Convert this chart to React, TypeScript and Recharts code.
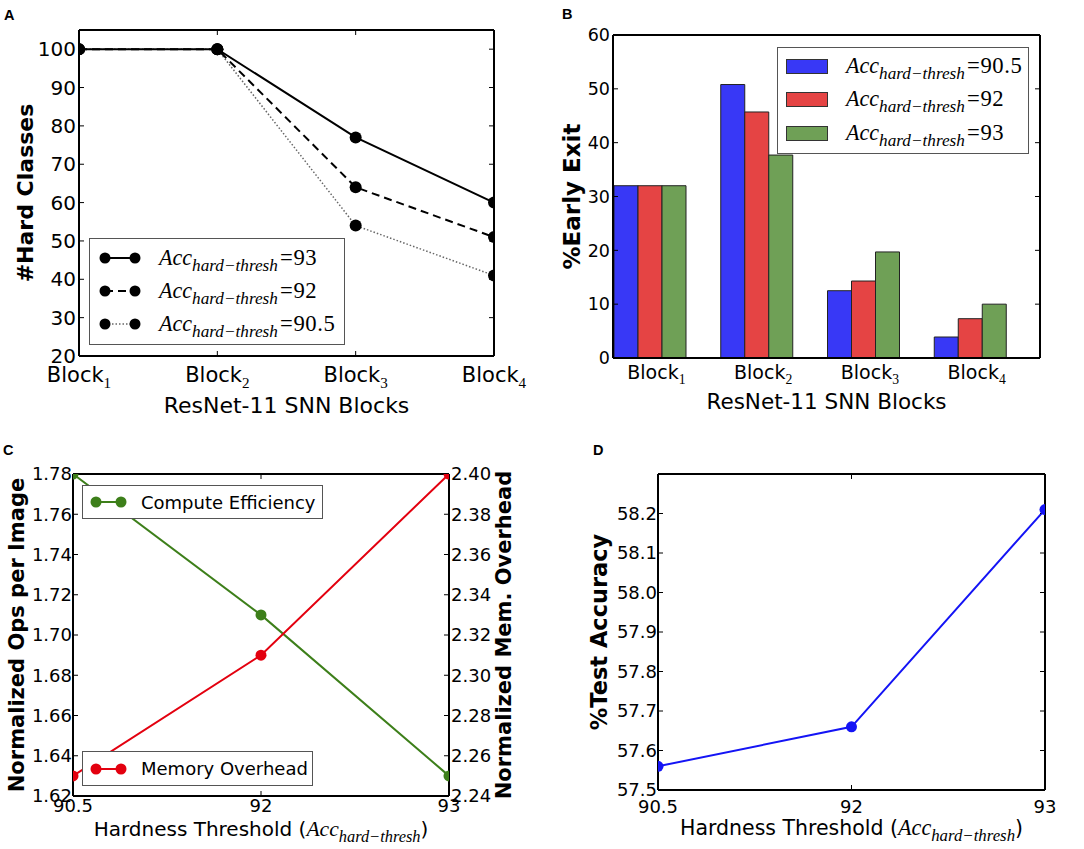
import React from 'react';
import { LineChart, Line, BarChart, Bar, XAxis, YAxis, Legend } from 'recharts';

const SANS = '"DejaVu Sans", "Bitstream Vera Sans", sans-serif';
const SERIF = '"Liberation Serif", "Times New Roman", serif';
const PANEL_FONT = '"Liberation Sans", Arial, sans-serif';

// ---------- Panel A data ----------
const blocks = ['Block1', 'Block2', 'Block3', 'Block4'];
const hardClasses93 = [100, 100, 77, 60];
const hardClasses92 = [100, 100, 64, 51];
const hardClasses905 = [100, 100, 54, 41];
const hardTicks = [20, 30, 40, 50, 60, 70, 80, 90, 100];

// ---------- Panel B data ----------
const earlyExit905 = [32.0, 50.8, 12.5, 3.9];
const earlyExit92 = [32.0, 45.7, 14.3, 7.3];
const earlyExit93 = [32.0, 37.7, 19.7, 10.0];
const exitTicks = [0, 10, 20, 30, 40, 50, 60];

// ---------- Panel C data ----------
const thresholds = ['90.5', '92', '93'];
const computeEfficiency = [1.78, 1.71, 1.63];
const memoryOverhead = [2.25, 2.31, 2.4];
const opsTicks = [1.62, 1.64, 1.66, 1.68, 1.7, 1.72, 1.74, 1.76, 1.78];
const memTicks = [2.24, 2.26, 2.28, 2.3, 2.32, 2.34, 2.36, 2.38, 2.4];

// ---------- Panel D data ----------
const testAccuracy = [57.56, 57.66, 58.21];
const accTicks = [57.5, 57.6, 57.7, 57.8, 57.9, 58.0, 58.1, 58.2];

const dataA = blocks.map((b, i) => ({ block: b, t93: hardClasses93[i], t92: hardClasses92[i], t905: hardClasses905[i] }));
const dataB = blocks.map((b, i) => ({ block: b, e905: earlyExit905[i], e92: earlyExit92[i], e93: earlyExit93[i] }));
const dataC = thresholds.map((t, i) => ({ th: t, ce: computeEfficiency[i], mo: memoryOverhead[i] }));
const dataD = thresholds.map((t, i) => ({ th: t, acc: testAccuracy[i] }));

const BLUE = '#3838f6';
const RED = '#e54444';
const GREEN = '#6fa056';
const LINE_GREEN = '#3d7f1a';
const LINE_RED = '#e3000f';
const LINE_BLUE = '#1414f5';

const AX = { stroke: '#000', strokeWidth: 2 };
const TL = { stroke: '#000', strokeWidth: 1 };

// layout (plot-area geometry for each panel)
const A = { w: 540, h: 420, left: 79, top: 30, right: 494, bottom: 356 };
const Bp = { w: 544, h: 420, left: 73, top: 35, right: 500, bottom: 358 };
const C = { w: 540, h: 429, left: 73, top: 54, right: 449, bottom: 376 };
const D = { w: 544, h: 429, left: 118, top: 54, right: 505, bottom: 370 };

const NoTick = () => <g />;

const clippedDot = (id: string, color: string, r: number, box: { left: number; top: number; right: number; bottom: number }) =>
  (props: any) => {
    const { cx, cy, index } = props;
    const cid = `${id}-${index}`;
    if (cx == null || cy == null) return <g key={cid} />;
    return (
      <g key={cid}>
        <clipPath id={cid}>
          <rect x={box.left} y={box.top} width={box.right - box.left} height={box.bottom - box.top} />
        </clipPath>
        <circle cx={cx} cy={cy} r={r} fill={color} clipPath={`url(#${cid})`} />
      </g>
    );
  };

const BlockTick = (props: any) => {
  const { x, y, payload, fs = 21, dx = 0 } = props;
  const digit = String(payload.value).replace('Block', '');
  return (
    <text x={x + dx} y={y} dy={fs * 0.72} textAnchor="middle" fontFamily={SANS} fontSize={fs} fill="#000">
      Block<tspan fontFamily={SERIF} fontSize={fs * 0.72} dy={fs * 0.3}>{digit}</tspan>
    </text>
  );
};

const xTitle = (text: string, baseline: number, fs: number) => (props: any) => {
  const vb = props.viewBox || { x: 0, y: 0, width: 0, height: 0 };
  return (
    <text x={vb.x + vb.width / 2} y={vb.y + baseline} textAnchor="middle" fontFamily={SANS} fontSize={fs} fill="#000">
      {text}
    </text>
  );
};

const thresholdTitle = (baseline: number, fs: number) => (props: any) => {
  const vb = props.viewBox || { x: 0, y: 0, width: 0, height: 0 };
  return (
    <text x={vb.x + vb.width / 2} y={vb.y + baseline} textAnchor="middle" fontFamily={SANS} fontSize={fs} fill="#000">
      Hardness Threshold (<tspan fontFamily={SERIF} fontStyle="italic" fontSize={fs * 1.08}>Acc</tspan><tspan fontFamily={SERIF} fontStyle="italic" fontSize={fs * 0.82} dy={fs * 0.3}>hard−thresh</tspan><tspan dy={-fs * 0.3}>)</tspan>
    </text>
  );
};

const yTitle = (text: string, cxOffset: number, fs: number) => (props: any) => {
  const vb = props.viewBox || { x: 0, y: 0, width: 0, height: 0 };
  const cx = vb.x + cxOffset;
  const cy = vb.y + vb.height / 2;
  return (
    <text
      transform={`translate(${cx},${cy}) rotate(-90)`}
      textAnchor="middle"
      dominantBaseline="central"
      fontFamily={SANS}
      fontWeight="bold"
      fontSize={fs}
      fill="#000"
    >
      {text}
    </text>
  );
};

const AccText = ({ value, fs }: { value: string; fs: number }) => (
  <span style={{ fontFamily: SERIF, fontSize: fs, lineHeight: 1, whiteSpace: 'nowrap', color: '#000' }}>
    <span style={{ fontStyle: 'italic', fontSize: fs * 1.05 }}>Acc</span>
    <span style={{ fontStyle: 'italic', fontSize: fs * 0.82, position: 'relative', top: fs * 0.3 }}>hard−thresh</span>
    <span style={{ marginLeft: fs * 0.1, fontSize: fs * 1.08, letterSpacing: 0.6 }}>={value}</span>
  </span>
);

const legendBox: React.CSSProperties = {
  position: 'absolute',
  background: '#fff',
  border: '1.5px solid #555',
  boxSizing: 'border-box',
};

const seriesA = [
  { label: '93', dash: undefined as string | undefined, color: '#000', w: 2 },
  { label: '92', dash: '8 5', color: '#000', w: 2 },
  { label: '90.5', dash: '1.5 2', color: '#666', w: 1.5 },
];

const LegendA = () => (
  <div style={{ position: 'relative', width: A.w, height: A.h, pointerEvents: 'none' }}>
    <div style={{ ...legendBox, left: 89, top: 238, width: 256, height: 107 }}>
      {seriesA.map((s, i) => (
        <div key={i} style={{ position: 'absolute', left: 0, top: 19 + i * 33 - 15, height: 30, display: 'flex', alignItems: 'center' }}>
          <svg width={69} height={30} style={{ display: 'block' }}>
            <line x1={15} y1={15} x2={45} y2={15} stroke={s.color} strokeWidth={s.w} strokeDasharray={s.dash} />
            <circle cx={15} cy={15} r={5.5} fill="#000" />
            <circle cx={45} cy={15} r={5.5} fill="#000" />
          </svg>
          <AccText value={s.label} fs={21} />
        </div>
      ))}
    </div>
  </div>
);

const seriesB = [
  { label: '90.5', color: BLUE },
  { label: '92', color: RED },
  { label: '93', color: GREEN },
];

const LegendB = () => (
  <div style={{ position: 'relative', width: Bp.w, height: Bp.h, pointerEvents: 'none' }}>
    <div style={{ ...legendBox, left: 237, top: 47, width: 252, height: 107 }}>
      {seriesB.map((s, i) => (
        <div key={i} style={{ position: 'absolute', left: 0, top: 18 + i * 33.5 - 15, height: 30, display: 'flex', alignItems: 'center' }}>
          <div style={{ marginLeft: 8, width: 42, height: 15, background: s.color, border: '1px solid #333', boxSizing: 'border-box' }} />
          <div style={{ width: 18 }} />
          <AccText value={s.label} fs={21} />
        </div>
      ))}
    </div>
  </div>
);

const DotSample = ({ color }: { color: string }) => (
  <svg width={58} height={30} style={{ display: 'block' }}>
    <line x1={13} y1={15} x2={38} y2={15} stroke={color} strokeWidth={2} />
    <circle cx={13} cy={15} r={5.5} fill={color} />
    <circle cx={38} cy={15} r={5.5} fill={color} />
  </svg>
);

const LegendC = () => (
  <div style={{ position: 'relative', width: C.w, height: C.h, pointerEvents: 'none' }}>
    <div style={{ ...legendBox, left: 82, top: 65, width: 241, height: 34, display: 'flex', alignItems: 'center' }}>
      <DotSample color={LINE_GREEN} />
      <span style={{ fontFamily: SANS, fontSize: 18, color: '#000', whiteSpace: 'nowrap' }}>Compute Efficiency</span>
    </div>
    <div style={{ ...legendBox, left: 82, top: 331, width: 231, height: 35, display: 'flex', alignItems: 'center' }}>
      <DotSample color={LINE_RED} />
      <span style={{ fontFamily: SANS, fontSize: 18, color: '#000', whiteSpace: 'nowrap' }}>Memory Overhead</span>
    </div>
  </div>
);

const tickFont = (fs: number) => ({ fontSize: fs, fill: '#000', fontFamily: SANS });

const PanelLabel = ({ text, left, top }: { text: string; left: number; top: number }) => (
  <div style={{ position: 'absolute', left, top, fontFamily: PANEL_FONT, fontWeight: 'bold', fontSize: 14.5, lineHeight: '14px', color: '#000' }}>
    {text}
  </div>
);

function PanelA() {
  return (
    <LineChart width={A.w} height={A.h} data={dataA} margin={{ top: A.top - 1, right: A.w - A.right - 1, left: 0, bottom: 0 }}>
      <XAxis dataKey="block" xAxisId="b" height={A.h - A.bottom} interval={0} axisLine={AX} tickLine={TL} tickSize={-5} tickMargin={16}
        tick={<BlockTick fs={21} />} label={xTitle('ResNet-11 SNN Blocks', 57, 22)} />
      <XAxis dataKey="block" xAxisId="t" orientation="top" height={1} interval={0} axisLine={AX} tickLine={TL} tickSize={-5} tick={NoTick} />
      <YAxis yAxisId="l" type="number" domain={[20, 105]} ticks={hardTicks} interval={0} allowDataOverflow width={A.left}
        axisLine={AX} tickLine={TL} tickSize={-5} tickMargin={8} tick={tickFont(20)} label={yTitle('#Hard Classes', 25, 22)} />
      <YAxis yAxisId="r" orientation="right" type="number" domain={[20, 105]} ticks={hardTicks} interval={0} allowDataOverflow width={1}
        axisLine={AX} tickLine={TL} tickSize={-5} tick={NoTick} />
      <Line xAxisId="b" yAxisId="l" dataKey="t905" stroke="#666" strokeWidth={1.5} strokeDasharray="1.5 2"
        dot={clippedDot('a905', '#000', 6, A)} isAnimationActive={false} />
      <Line xAxisId="b" yAxisId="l" dataKey="t92" stroke="#000" strokeWidth={2} strokeDasharray="8 5"
        dot={clippedDot('a92', '#000', 6, A)} isAnimationActive={false} />
      <Line xAxisId="b" yAxisId="l" dataKey="t93" stroke="#000" strokeWidth={2}
        dot={clippedDot('a93', '#000', 6, A)} isAnimationActive={false} />
      <Legend verticalAlign="middle" align="center" content={() => <LegendA />}
        wrapperStyle={{ left: 0, top: 0, width: A.w, height: A.h, pointerEvents: 'none' }} />
    </LineChart>
  );
}

function PanelB() {
  return (
    <BarChart width={Bp.w} height={Bp.h} data={dataB} margin={{ top: Bp.top - 1, right: Bp.w - Bp.right - 1, left: 0, bottom: 0 }} barGap={0} barSize={24}>
      <XAxis dataKey="block" xAxisId="b" height={Bp.h - Bp.bottom} interval={0} padding={{ left: -16, right: 16 }} axisLine={AX} tickLine={false}
        tickSize={0} tickMargin={7} tick={<BlockTick fs={19} dx={6} />} label={xTitle('ResNet-11 SNN Blocks', 51, 21.5)} />
      <XAxis dataKey="block" xAxisId="t" orientation="top" height={1} interval={0} padding={{ left: -16, right: 16 }} axisLine={AX}
        tickLine={false} tickSize={0} tick={NoTick} />
      <YAxis yAxisId="l" type="number" domain={[0, 60]} ticks={exitTicks} interval={0} allowDataOverflow width={Bp.left}
        axisLine={AX} tickLine={TL} tickSize={-5} tickMargin={8} tick={tickFont(17.5)} label={yTitle('%Early Exit', 32, 23)} />
      <YAxis yAxisId="r" orientation="right" type="number" domain={[0, 60]} ticks={exitTicks} interval={0} allowDataOverflow width={1}
        axisLine={AX} tickLine={TL} tickSize={-5} tick={NoTick} />
      <Bar xAxisId="b" yAxisId="l" dataKey="e905" fill={BLUE} stroke="#222" strokeWidth={1} isAnimationActive={false} />
      <Bar xAxisId="b" yAxisId="l" dataKey="e92" fill={RED} stroke="#222" strokeWidth={1} isAnimationActive={false} />
      <Bar xAxisId="b" yAxisId="l" dataKey="e93" fill={GREEN} stroke="#222" strokeWidth={1} isAnimationActive={false} />
      <Legend verticalAlign="middle" align="center" content={() => <LegendB />}
        wrapperStyle={{ left: 0, top: 0, width: Bp.w, height: Bp.h, pointerEvents: 'none' }} />
    </BarChart>
  );
}

function PanelC() {
  return (
    <LineChart width={C.w} height={C.h} data={dataC} margin={{ top: C.top - 1, right: 0, left: 0, bottom: 0 }}>
      <XAxis dataKey="th" xAxisId="b" height={C.h - C.bottom} interval={0} axisLine={AX} tickLine={TL} tickSize={-5} tickMargin={8}
        tick={tickFont(18)} label={thresholdTitle(40, 20)} />
      <XAxis dataKey="th" xAxisId="t" orientation="top" height={1} interval={0} axisLine={AX} tickLine={TL} tickSize={-5} tick={NoTick} />
      <YAxis yAxisId="l" type="number" domain={[1.62, 1.78]} ticks={opsTicks} interval={0} allowDataOverflow width={C.left}
        axisLine={AX} tickLine={TL} tickSize={-5} tickMargin={6} tick={tickFont(18)} tickFormatter={(v: number) => v.toFixed(2)}
        label={yTitle('Normalized Ops per Image', 16.5, 21)} />
      <YAxis yAxisId="r" orientation="right" type="number" domain={[2.24, 2.4]} ticks={memTicks} interval={0} allowDataOverflow width={C.w - C.right}
        axisLine={AX} tickLine={TL} tickSize={-5} tickMargin={7} tick={tickFont(18)} tickFormatter={(v: number) => v.toFixed(2)}
        label={yTitle('Normalized Mem. Overhead', 55, 21)} />
      <Line xAxisId="b" yAxisId="l" dataKey="ce" stroke={LINE_GREEN} strokeWidth={2}
        dot={clippedDot('cce', LINE_GREEN, 5.5, C)} isAnimationActive={false} />
      <Line xAxisId="b" yAxisId="r" dataKey="mo" stroke={LINE_RED} strokeWidth={2}
        dot={clippedDot('cmo', LINE_RED, 5.5, C)} isAnimationActive={false} />
      <Legend verticalAlign="middle" align="center" content={() => <LegendC />}
        wrapperStyle={{ left: 0, top: 0, width: C.w, height: C.h, pointerEvents: 'none' }} />
    </LineChart>
  );
}

function PanelD() {
  return (
    <LineChart width={D.w} height={D.h} data={dataD} margin={{ top: D.top - 1, right: D.w - D.right - 1, left: 0, bottom: 0 }}>
      <XAxis dataKey="th" xAxisId="b" height={D.h - D.bottom} interval={0} axisLine={AX} tickLine={TL} tickSize={-5} tickMargin={15}
        tick={tickFont(18)} label={thresholdTitle(45, 20.5)} />
      <XAxis dataKey="th" xAxisId="t" orientation="top" height={1} interval={0} axisLine={AX} tickLine={TL} tickSize={-5} tick={NoTick} />
      <YAxis yAxisId="l" type="number" domain={[57.5, 58.3]} ticks={accTicks} interval={0} allowDataOverflow width={D.left}
        axisLine={AX} tickLine={TL} tickSize={-5} tickMargin={6} tick={tickFont(18)} tickFormatter={(v: number) => v.toFixed(1)}
        label={yTitle('%Test Accuracy', 59, 22.5)} />
      <YAxis yAxisId="r" orientation="right" type="number" domain={[57.5, 58.3]} ticks={accTicks} interval={0} allowDataOverflow width={1}
        axisLine={AX} tickLine={TL} tickSize={-5} tick={NoTick} />
      <Line xAxisId="b" yAxisId="l" dataKey="acc" stroke={LINE_BLUE} strokeWidth={2}
        dot={clippedDot('dacc', LINE_BLUE, 5.5, D)} isAnimationActive={false} />
    </LineChart>
  );
}

export default function App() {
  return (
    <div style={{ position: 'absolute', left: 0, top: 0, width: 1084, height: 849, background: '#fff', fontFamily: SANS, overflow: 'hidden' }}>
      <div style={{ position: 'absolute', left: 0, top: 0 }}><PanelA /></div>
      <div style={{ position: 'absolute', left: 540, top: 0 }}><PanelB /></div>
      <div style={{ position: 'absolute', left: 0, top: 420 }}><PanelC /></div>
      <div style={{ position: 'absolute', left: 540, top: 420 }}><PanelD /></div>
      <PanelLabel text="A" left={4} top={8} />
      <PanelLabel text="B" left={562} top={7} />
      <PanelLabel text="C" left={3} top={443} />
      <PanelLabel text="D" left={593} top={443} />
    </div>
  );
}
